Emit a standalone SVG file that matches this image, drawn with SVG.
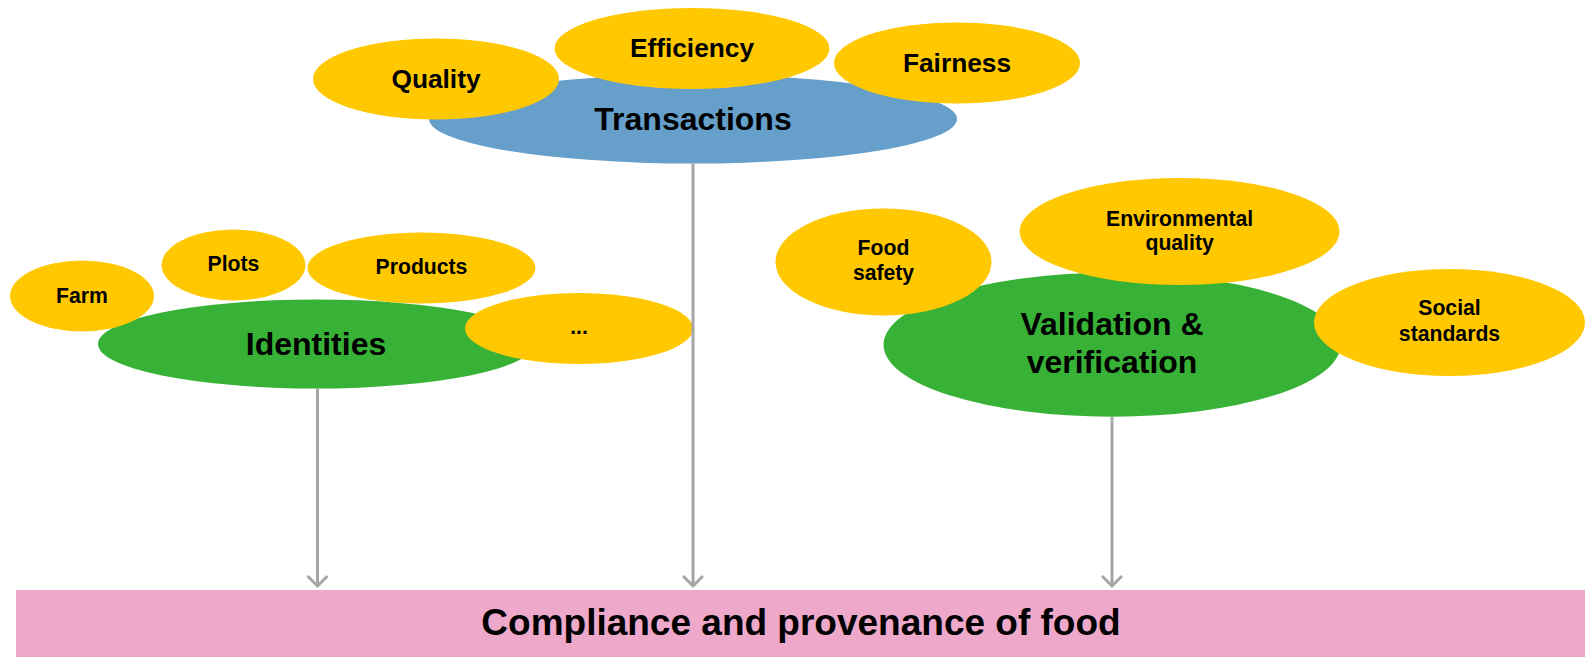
<svg xmlns="http://www.w3.org/2000/svg" width="1585" height="657" viewBox="0 0 1585 657">
<defs>
<style>
text{font-family:"Liberation Sans",Arial,sans-serif;font-weight:bold;fill:#000;text-anchor:middle}
.y{fill:#FFC800}
.b{fill:#659FCA}
.g{fill:#38B236}
.s{font-size:21.2px}
.m{font-size:26.3px}
.l{font-size:32px}
.c{stroke:#A6A6A6;stroke-width:3;fill:none}
</style>
<marker id="ah" markerUnits="userSpaceOnUse" markerWidth="26" markerHeight="26" refX="13" refY="13" orient="auto" viewBox="0 0 26 26">
<polyline points="3,3 13,13 3,23" fill="none" stroke="#A6A6A6" stroke-width="3" stroke-linejoin="miter"/>
</marker>
</defs>
<rect x="0" y="0" width="1585" height="657" fill="#fff"/>
<g id="compliance">
<rect x="16" y="590" width="1569" height="67" fill="#EEA8C9"/>
<text x="801" y="635" style="font-size:37px">Compliance and provenance of food</text>
</g>
<g id="transactions">
<ellipse class="b" cx="693" cy="119" rx="264" ry="44.5"/>
<text class="l" x="693" y="130">Transactions</text>
</g>
<g id="quality">
<ellipse class="y" cx="436" cy="79" rx="123" ry="40.5"/>
<text class="m" x="436" y="88">Quality</text>
</g>
<g id="efficiency">
<ellipse class="y" cx="692" cy="48.5" rx="137.5" ry="40.5"/>
<text class="m" x="692" y="57">Efficiency</text>
</g>
<g id="fairness">
<ellipse class="y" cx="957" cy="63" rx="123" ry="40.5"/>
<text class="m" x="957" y="72">Fairness</text>
</g>
<g id="identities">
<ellipse class="g" cx="316" cy="344" rx="218" ry="44.5"/>
<text class="l" x="316" y="355">Identities</text>
</g>
<g id="farm">
<ellipse class="y" cx="82" cy="296" rx="72" ry="35.5"/>
<text class="s" x="82" y="303">Farm</text>
</g>
<g id="plots">
<ellipse class="y" cx="233.5" cy="265" rx="72" ry="35.5"/>
<text class="s" x="233.5" y="271">Plots</text>
</g>
<g id="products">
<ellipse class="y" cx="421.5" cy="268" rx="114" ry="35.5"/>
<text class="s" x="421.5" y="274">Products</text>
</g>
<g id="etc">
<ellipse class="y" cx="579" cy="328.5" rx="114" ry="35.5"/>
<text class="s" x="579" y="333.5">...</text>
</g>
<g id="validation">
<ellipse class="g" cx="1112" cy="344.7" rx="228.5" ry="72"/>
<text class="l" x="1112" y="335">Validation &amp;</text>
<text class="l" x="1112" y="373">verification</text>
</g>
<g id="food-safety">
<ellipse class="y" cx="883.5" cy="262" rx="108" ry="53.5"/>
<text class="s" x="883.5" y="255">Food</text>
<text class="s" x="883.5" y="280">safety</text>
</g>
<g id="environmental-quality">
<ellipse class="y" cx="1179.6" cy="231.5" rx="160" ry="53.5"/>
<text class="s" x="1179.6" y="225.5">Environmental</text>
<text class="s" x="1179.6" y="249.7">quality</text>
</g>
<g id="social-standards">
<ellipse class="y" cx="1449.5" cy="322.5" rx="135.5" ry="53.5"/>
<text class="s" x="1449.5" y="315.4">Social</text>
<text class="s" x="1449.5" y="340.6">standards</text>
</g>
<g id="connectors">
<line class="c" x1="317.5" y1="388.5" x2="317.5" y2="586" marker-end="url(#ah)"/>
<line class="c" x1="693" y1="163.5" x2="693" y2="586" marker-end="url(#ah)"/>
<line class="c" x1="1112" y1="416.7" x2="1112" y2="586" marker-end="url(#ah)"/>
</g>
</svg>
